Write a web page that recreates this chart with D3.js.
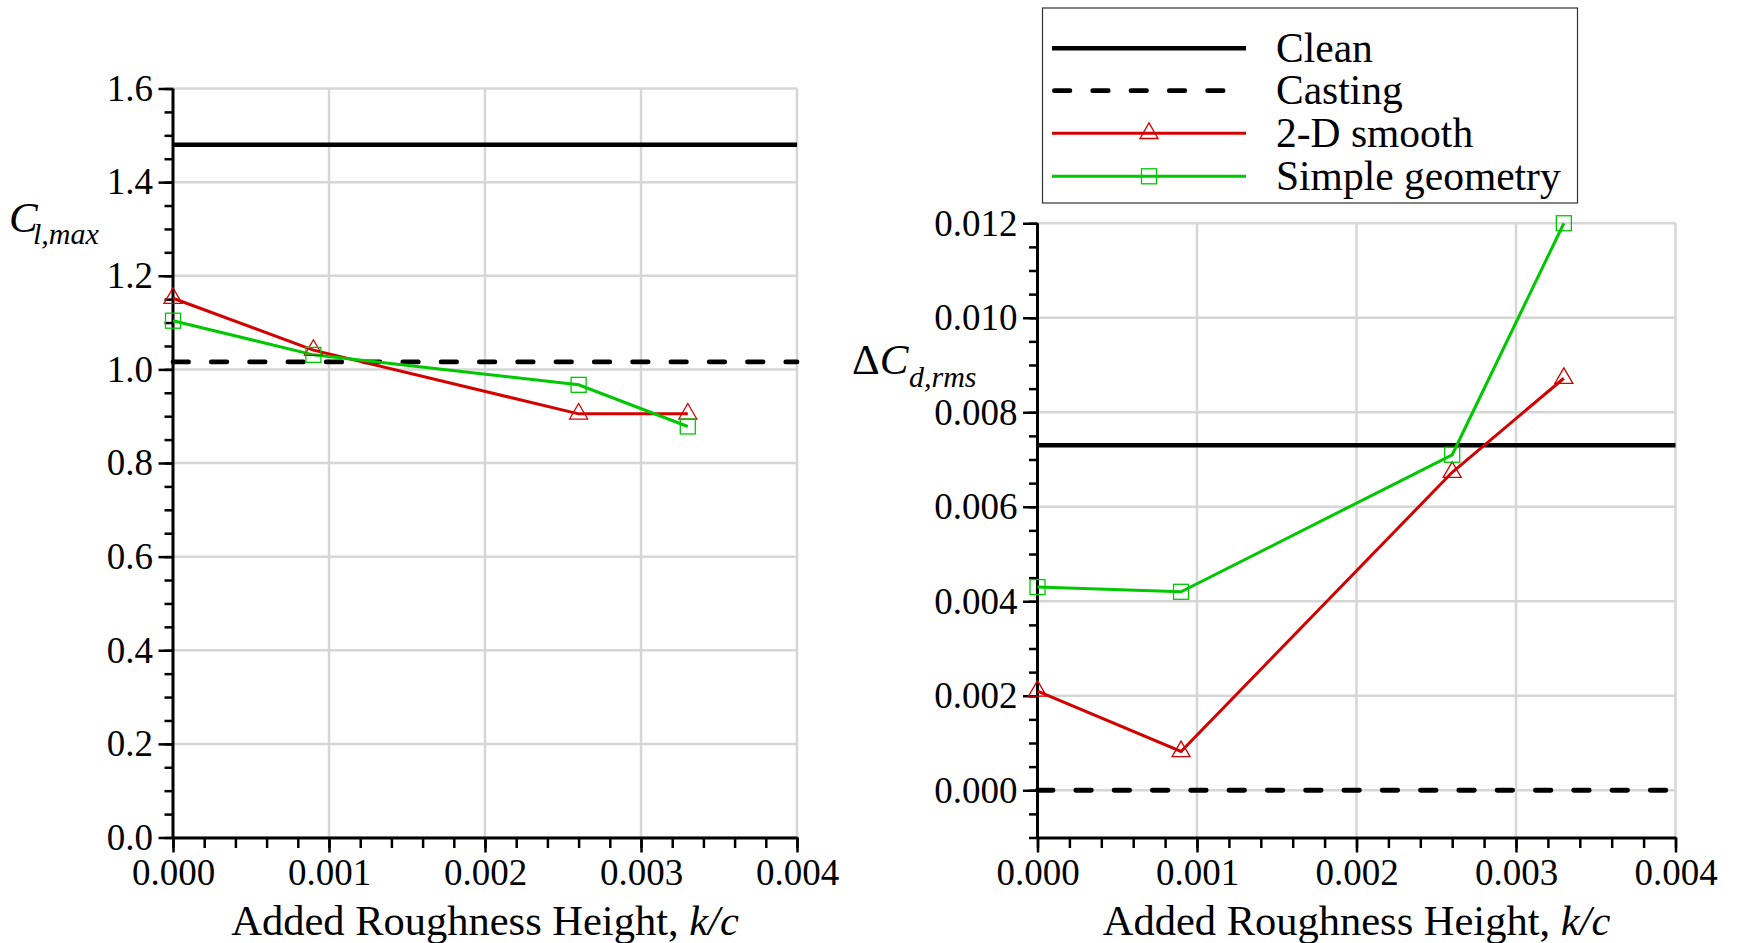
<!DOCTYPE html>
<html>
<head>
<meta charset="utf-8">
<script src="https://cdn.jsdelivr.net/npm/d3@7"></script>
<style>
  html, body { margin: 0; padding: 0; background: #fff; }
  svg { display: block; }
  svg text { font-family: "Liberation Serif", Tinos, "Times New Roman", "DejaVu Serif", serif; fill: #000; }
</style>
</head>
<body>
<svg id="chart" width="1738" height="943"></svg>
<script>
// Roughness heights tested (k/c)
const roughness = [0, 0.0009, 0.0026, 0.0033];

// Maximum lift coefficient
const clmaxSmooth = [1.152, 1.041, 0.905, 0.905];
const clmaxSimple = [1.104, 1.031, 0.967, 0.878];
const clmaxClean = 1.48;
const clmaxCasting = 1.016;

// Change in rms drag coefficient
const cdSmooth = [0.0021, 0.00082, 0.00673, 0.00872];
const cdSimple = [0.0043, 0.0042, 0.0071, 0.0120];
const cdClean = 0.0073;
const cdCasting = 0.0;

// Tick values
const xTicks = [0, 0.001, 0.002, 0.003, 0.004];
const clTicks = [0, 0.2, 0.4, 0.6, 0.8, 1.0, 1.2, 1.4, 1.6];
const cdTicks = [0, 0.002, 0.004, 0.006, 0.008, 0.010, 0.012];

// Legend entries
const legendLabels = ["Clean", "Casting", "2-D smooth", "Simple geometry"];

const SERIF = '"Liberation Serif", Tinos, "Times New Roman", "DejaVu Serif", serif';
const RED = "#d40000";
const GREEN = "#00c800";
const GRID = "#d6d6d6";

const svg = d3.select("#chart");
svg.append("rect").attr("width", 1738).attr("height", 943).attr("fill", "#fff");

function trianglePath(cx, cy, side) {
  const h = side * Math.sqrt(3) / 2;
  return `M${cx},${cy - 2 * h / 3}L${cx + side / 2},${cy + h / 3}L${cx - side / 2},${cy + h / 3}Z`;
}

function drawPanel(opt) {
  const x = d3.scaleLinear().domain([0, 0.004]).range([opt.left, opt.right]);
  const y = d3.scaleLinear().domain(opt.yDomain).range([opt.bottom, opt.top]);
  const g = svg.append("g");

  // grid
  g.append("g").selectAll("line").data(xTicks.slice(1)).join("line")
    .attr("x1", d => x(d)).attr("x2", d => x(d))
    .attr("y1", opt.bottom).attr("y2", opt.top)
    .attr("stroke", GRID).attr("stroke-width", 2.5);
  g.append("g").selectAll("line").data(opt.yTicks).join("line")
    .attr("x1", opt.left).attr("x2", opt.right)
    .attr("y1", d => y(d)).attr("y2", d => y(d))
    .attr("stroke", GRID).attr("stroke-width", 2.5);

  // minor ticks
  const xMinor = d3.range(0, 0.0040001, 0.0002);
  const yMinor = d3.range(opt.yDomain[0], opt.yDomain[1] + opt.yMinorStep / 10, opt.yMinorStep);
  g.append("g").attr("transform", `translate(0,${opt.bottom})`)
    .call(d3.axisBottom(x).tickValues(xMinor).tickSize(10.5).tickSizeOuter(0).tickFormat(""))
    .call(a => a.select(".domain").remove())
    .call(a => a.selectAll("line").attr("stroke", "#000").attr("stroke-width", 2.5));
  g.append("g").attr("transform", `translate(${opt.left},0)`)
    .call(d3.axisLeft(y).tickValues(yMinor).tickSize(8.5).tickSizeOuter(0).tickFormat(""))
    .call(a => a.select(".domain").remove())
    .call(a => a.selectAll("line").attr("stroke", "#000").attr("stroke-width", 2.5));

  // major axes
  const xAxis = g.append("g").attr("transform", `translate(0,${opt.bottom})`)
    .call(d3.axisBottom(x).tickValues(xTicks).tickSize(15).tickSizeOuter(0).tickFormat(d3.format(".3f")));
  xAxis.attr("font-family", null);
  xAxis.select(".domain").attr("stroke", "#000").attr("stroke-width", 3);
  xAxis.selectAll(".tick line").attr("stroke", "#000").attr("stroke-width", 2.5);
  xAxis.selectAll(".tick text").attr("y", 47).attr("dy", null)
    .style("font-family", SERIF).style("font-size", "37px").attr("fill", "#000");

  const yAxis = g.append("g").attr("transform", `translate(${opt.left},0)`)
    .call(d3.axisLeft(y).tickValues(opt.yTicks).tickSize(14.5).tickSizeOuter(0).tickFormat(d3.format(opt.yFormat)));
  yAxis.attr("font-family", null);
  yAxis.select(".domain").attr("stroke", "#000").attr("stroke-width", 3);
  yAxis.selectAll(".tick line").attr("stroke", "#000").attr("stroke-width", 2.5);
  yAxis.selectAll(".tick text").attr("x", -20).attr("dy", "0.32em")
    .style("font-family", SERIF).style("font-size", "37px").attr("fill", "#000");
  yAxis.select(".domain").attr("d", `M0,${y(opt.yDomain[0])}V${y(opt.yDomain[1])}`);

  // reference lines
  g.append("line").attr("x1", x(0)).attr("x2", x(0.004))
    .attr("y1", y(opt.clean)).attr("y2", y(opt.clean))
    .attr("stroke", "#000").attr("stroke-width", 4.5);
  g.append("line").attr("x1", x(0)).attr("x2", x(0.004))
    .attr("y1", y(opt.casting)).attr("y2", y(opt.casting))
    .attr("stroke", "#000").attr("stroke-width", 4.8)
    .attr("stroke-linecap", "round").attr("stroke-dasharray", "15.5 22.8");

  const line = d3.line().x(d => x(d[0])).y(d => y(d[1]));
  const smooth = roughness.map((r, i) => [r, opt.smooth[i]]);
  const simple = roughness.map((r, i) => [r, opt.simple[i]]);

  g.append("path").datum(smooth).attr("d", line)
    .attr("fill", "none").attr("stroke", RED).attr("stroke-width", 3);
  g.append("path").datum(simple).attr("d", line)
    .attr("fill", "none").attr("stroke", GREEN).attr("stroke-width", 3);

  g.append("g").selectAll("path").data(smooth).join("path")
    .attr("d", d => trianglePath(x(d[0]), y(d[1]), 18))
    .attr("fill", "none").attr("stroke", RED).attr("stroke-width", 1.3);
  g.append("g").selectAll("rect").data(simple).join("rect")
    .attr("x", d => x(d[0]) - 7.5).attr("y", d => y(d[1]) - 7.5)
    .attr("width", 15).attr("height", 15)
    .attr("fill", "none").attr("stroke", GREEN).attr("stroke-width", 1.3);

  // x title
  const t = svg.append("text").attr("x", (opt.left + opt.right) / 2).attr("y", 935)
    .attr("text-anchor", "middle").style("font-family", SERIF).style("font-size", "42.5px");
  t.append("tspan").text("Added Roughness Height, ");
  t.append("tspan").style("font-style", "italic").text("k/c");
}

drawPanel({
  left: 173, right: 797, top: 88.5, bottom: 837.5,
  yDomain: [0, 1.6], yTicks: clTicks, yMinorStep: 0.05, yFormat: ".1f",
  smooth: clmaxSmooth, simple: clmaxSimple, clean: clmaxClean, casting: clmaxCasting
});

drawPanel({
  left: 1037.5, right: 1675.5, top: 837.5 - 13 * 47.25, bottom: 837.5,
  yDomain: [-0.001, 0.012], yTicks: cdTicks, yMinorStep: 0.0005, yFormat: ".3f",
  smooth: cdSmooth, simple: cdSimple, clean: cdClean, casting: cdCasting
});

// y titles
const yl = svg.append("text").attr("x", 9).attr("y", 231.5).style("font-family", SERIF);
yl.append("tspan").style("font-style", "italic").style("font-size", "43px").text("C");
yl.append("tspan").attr("x", 33).attr("dy", 12.5).style("font-style", "italic").style("font-size", "30px").text("l,max");

const yr = svg.append("text").attr("x", 852).attr("y", 373.5).style("font-family", SERIF);
yr.append("tspan").style("font-size", "43px").text("\u0394");
yr.append("tspan").style("font-style", "italic").style("font-size", "43px").text("C");
yr.append("tspan").attr("x", 909).attr("dy", 13).style("font-style", "italic").style("font-size", "30px").text("d,rms");

// legend
const lg = svg.append("g");
lg.append("rect").attr("x", 1042.5).attr("y", 8).attr("width", 535).attr("height", 195)
  .attr("fill", "#fff").attr("stroke", "#333").attr("stroke-width", 1.2);
const rowY = [48.3, 90.7, 133.3, 176.3];
const lx1 = 1052, lx2 = 1246, mx = 1149;
lg.append("line").attr("x1", lx1).attr("x2", lx2).attr("y1", rowY[0]).attr("y2", rowY[0])
  .attr("stroke", "#000").attr("stroke-width", 4.5);
lg.append("line").attr("x1", lx1 + 2.4).attr("x2", lx2 - 20).attr("y1", rowY[1]).attr("y2", rowY[1])
  .attr("stroke", "#000").attr("stroke-width", 4.8).attr("stroke-linecap", "round")
  .attr("stroke-dasharray", "15.5 22.8");
lg.append("line").attr("x1", lx1).attr("x2", lx2).attr("y1", rowY[2]).attr("y2", rowY[2])
  .attr("stroke", RED).attr("stroke-width", 3);
lg.append("path").attr("d", trianglePath(mx, rowY[2], 18))
  .attr("fill", "none").attr("stroke", RED).attr("stroke-width", 1.3);
lg.append("line").attr("x1", lx1).attr("x2", lx2).attr("y1", rowY[3]).attr("y2", rowY[3])
  .attr("stroke", GREEN).attr("stroke-width", 3);
lg.append("rect").attr("x", mx - 7.5).attr("y", rowY[3] - 7.5).attr("width", 15).attr("height", 15)
  .attr("fill", "none").attr("stroke", GREEN).attr("stroke-width", 1.3);
lg.selectAll("text.lab").data(legendLabels).join("text").attr("class", "lab")
  .attr("x", 1276).attr("y", (d, i) => rowY[i] + 13.4)
  .style("font-family", SERIF).style("font-size", "41.5px").text(d => d);
</script>
</body>
</html>
